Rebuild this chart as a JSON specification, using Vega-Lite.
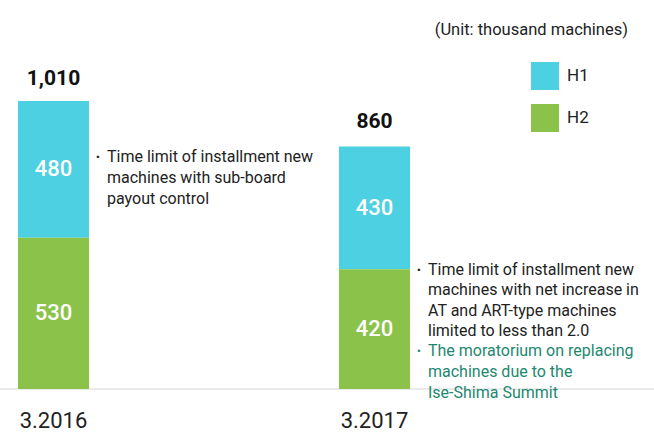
{
  "$schema": "https://vega.github.io/schema/vega-lite/v6.json",
  "width": 654,
  "height": 389,
  "autosize": {"type": "none"},
  "padding": {"left": 0, "top": 0, "right": 0, "bottom": 45},
  "background": "white",
  "config": {
    "view": {"stroke": null},
    "font": "Roboto",
    "axisX": {"domain": false, "ticks": false, "grid": false, "labelFontSize": 22, "labelFont": "Roboto", "labelColor": "#222222", "labelPadding": 21, "labelAngle": 0}
  },
  "title": {"text": "(Unit: thousand machines)", "anchor": "end", "frame": "group", "orient": "top", "offset": 0, "dx": -26, "dy": 38, "fontSize": 16.5, "fontWeight": "normal", "color": "#222222", "font": "Roboto"},
  "datasets": {
    "bars": [
      {"period": "3.2016", "series": "H1", "value": 480},
      {"period": "3.2016", "series": "H2", "value": 530},
      {"period": "3.2017", "series": "H1", "value": 430},
      {"period": "3.2017", "series": "H2", "value": 420}
    ],
    "totals": [
      {"period": "3.2016", "total": 1010, "label": "1,010"},
      {"period": "3.2017", "total": 860, "label": "860"}
    ],
    "notes": [
      {"period": "3.2016", "at": 840, "kind": "main", "text": "Time limit of installment new\nmachines with sub-board\npayout control"},
      {"period": "3.2017", "at": 447, "kind": "main", "text": "Time limit of installment new\nmachines with net increase in\nAT and ART-type machines\nlimited to less than 2.0"},
      {"period": "3.2017", "at": 160, "kind": "accent", "text": "The moratorium on replacing\nmachines due to the\nIse-Shima Summit"}
    ]
  },
  "layer": [
    {
      "data": {"values": [{"base": 0}]},
      "mark": {"type": "rule", "stroke": "#e3e3e3", "strokeWidth": 1.5},
      "encoding": {
        "y": {"field": "base", "type": "quantitative", "scale": {"domain": [0, 1364], "nice": false}, "axis": null}
      }
    },
    {
      "data": {"name": "bars"},
      "mark": {"type": "bar"},
      "encoding": {
        "x": {"field": "period", "type": "nominal", "title": null, "scale": {"domain": ["3.2016", "3.2017"], "range": [18, 410], "paddingInner": 0.7788, "paddingOuter": 0}},
        "y": {"field": "value", "type": "quantitative", "stack": "zero", "scale": {"domain": [0, 1364], "nice": false}, "axis": null},
        "color": {
          "field": "series", "type": "nominal",
          "scale": {"domain": ["H1", "H2"], "range": ["#4dd0e1", "#8bc34a"]},
          "legend": {"title": null, "orient": "none", "legendX": 531, "legendY": 62, "padding": 0, "symbolType": "square", "symbolSize": 784, "symbolStrokeWidth": 0, "symbolOpacity": 1, "labelFontSize": 17, "labelFont": "Roboto", "labelColor": "#222222", "labelOffset": 8, "rowPadding": 14}
        },
        "order": {"field": "series", "sort": "descending"}
      }
    },
    {
      "data": {"name": "bars"},
      "transform": [
        {"stack": "value", "groupby": ["period"], "sort": [{"field": "series", "order": "descending"}], "as": ["v0", "v1"]},
        {"calculate": "(datum.v0 + datum.v1) / 2", "as": "mid"}
      ],
      "mark": {"type": "text", "color": "white", "fontSize": 22, "fontWeight": 500, "font": "Roboto", "baseline": "middle", "align": "center"},
      "encoding": {
        "x": {"field": "period", "type": "nominal", "title": null},
        "y": {"field": "mid", "type": "quantitative", "scale": {"domain": [0, 1364], "nice": false}, "axis": null},
        "text": {"field": "value", "type": "quantitative"}
      }
    },
    {
      "data": {"name": "totals"},
      "mark": {"type": "text", "color": "#111111", "fontSize": 21, "fontWeight": "bold", "font": "Roboto", "baseline": "alphabetic", "align": "center", "dy": -16},
      "encoding": {
        "x": {"field": "period", "type": "nominal", "title": null},
        "y": {"field": "total", "type": "quantitative", "scale": {"domain": [0, 1364], "nice": false}, "axis": null},
        "text": {"field": "label", "type": "nominal"}
      }
    },
    {
      "data": {"name": "notes"},
      "transform": [{"filter": "datum.kind === 'main'"}],
      "mark": {"type": "text", "color": "#222222", "fontSize": 16, "font": "Roboto", "baseline": "top", "align": "left", "lineBreak": "\n", "lineHeight": 20.6, "dx": 18},
      "encoding": {
        "x": {"field": "period", "type": "nominal", "title": null, "bandPosition": 1},
        "y": {"field": "at", "type": "quantitative", "scale": {"domain": [0, 1364], "nice": false}, "axis": null},
        "text": {"field": "text", "type": "nominal"}
      }
    },
    {
      "data": {"name": "notes"},
      "transform": [{"filter": "datum.kind === 'accent'"}],
      "mark": {"type": "text", "color": "#23876f", "fontSize": 16, "font": "Roboto", "baseline": "top", "align": "left", "lineBreak": "\n", "lineHeight": 20.6, "dx": 18},
      "encoding": {
        "x": {"field": "period", "type": "nominal", "title": null, "bandPosition": 1},
        "y": {"field": "at", "type": "quantitative", "scale": {"domain": [0, 1364], "nice": false}, "axis": null},
        "text": {"field": "text", "type": "nominal"}
      }
    },
    {
      "data": {"name": "notes"},
      "mark": {"type": "text", "fontSize": 16, "font": "Roboto", "fontWeight": "bold", "baseline": "top", "align": "center", "dx": 9},
      "encoding": {
        "x": {"field": "period", "type": "nominal", "title": null, "bandPosition": 1},
        "y": {"field": "at", "type": "quantitative", "scale": {"domain": [0, 1364], "nice": false}, "axis": null},
        "color": {"condition": {"test": "datum.kind === 'accent'", "value": "#23876f"}, "value": "#222222"},
        "text": {"value": "·"}
      }
    }
  ]
}
